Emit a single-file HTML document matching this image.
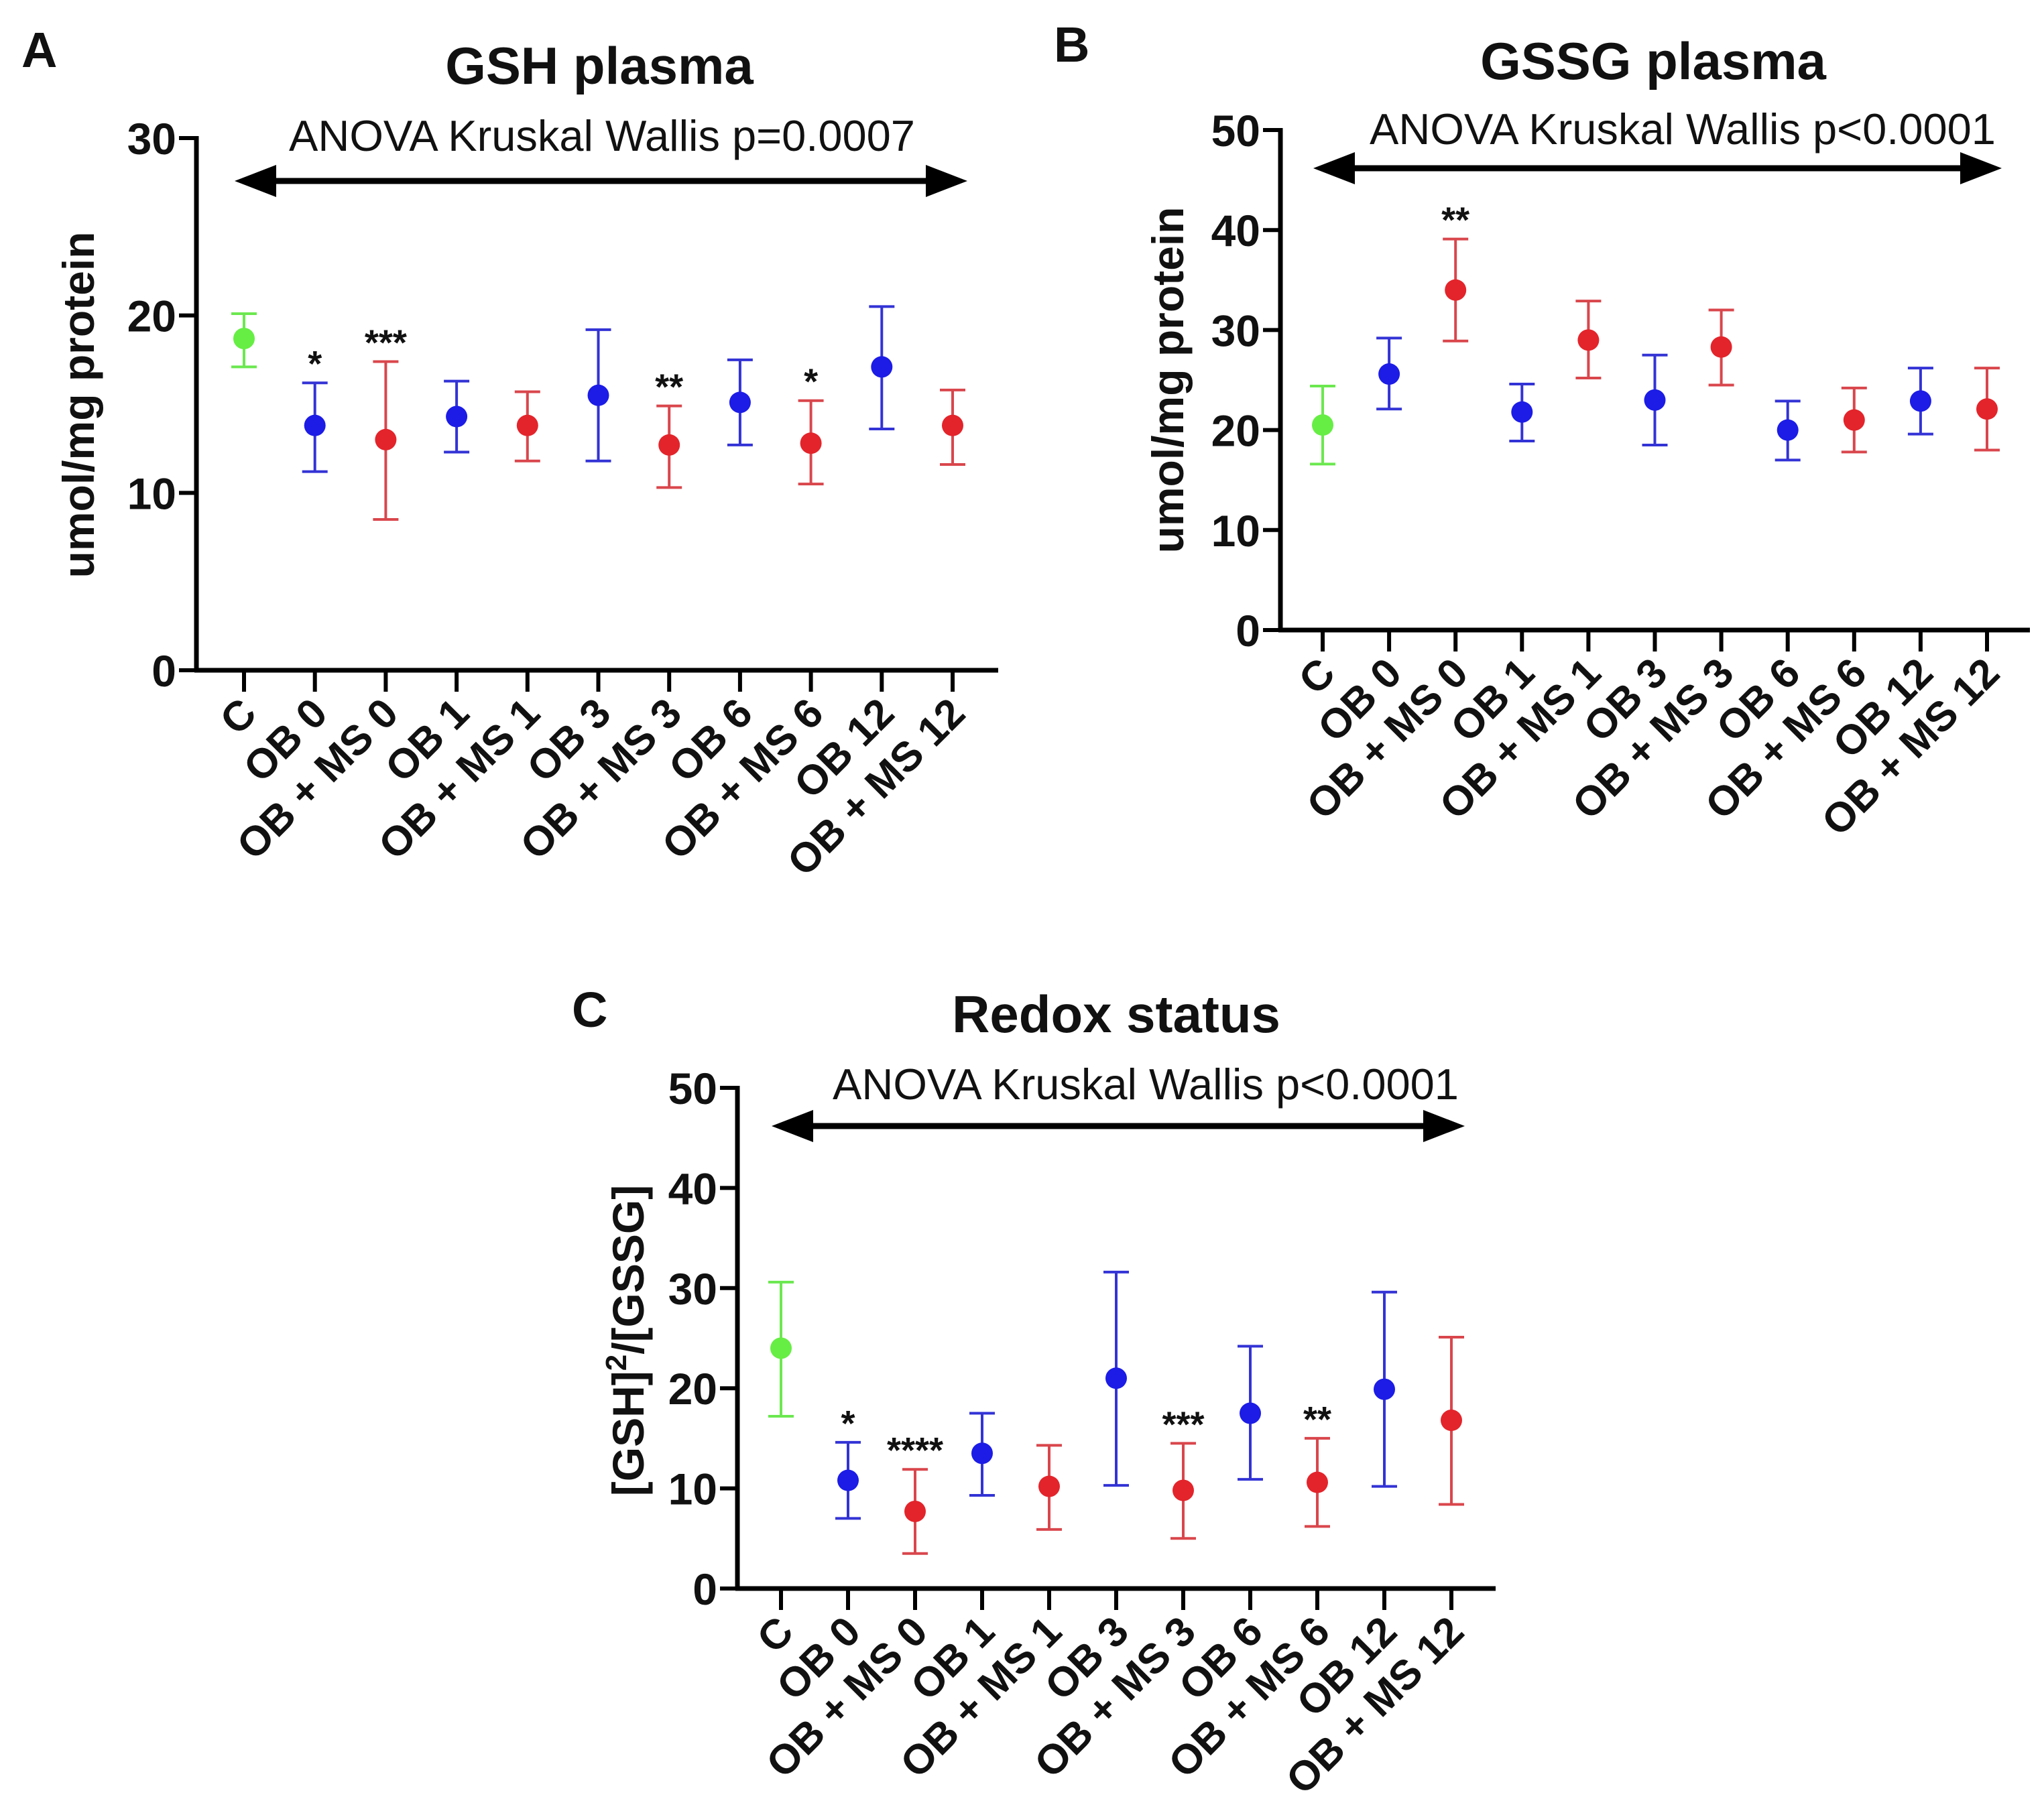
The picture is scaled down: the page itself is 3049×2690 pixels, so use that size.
<!DOCTYPE html>
<html><head><meta charset="utf-8"><style>
html,body{margin:0;padding:0;background:#fff;}
svg{display:block;font-family:"Liberation Sans",Arial,sans-serif;}
</style></head><body>
<svg id="fig" width="3049" height="2690" viewBox="0 0 3049 2690" xmlns="http://www.w3.org/2000/svg"></svg>
<script>
const categories = ["C","OB 0","OB + MS 0","OB 1","OB + MS 1","OB 3","OB + MS 3","OB 6","OB + MS 6","OB 12","OB + MS 12"];
const groupType = ["c","ob","ms","ob","ms","ob","ms","ob","ms","ob","ms"];
const gshMean = [18.7,13.8,13.0,14.3,13.8,15.5,12.7,15.1,12.8,17.1,13.8];
const gshLow  = [17.1,11.2,8.5,12.3,11.8,11.8,10.3,12.7,10.5,13.6,11.6];
const gshHigh = [20.1,16.2,17.4,16.3,15.7,19.2,14.9,17.5,15.2,20.5,15.8];
const gshStars = ["","*","***","","","","**","","*","",""];
const gssgMean = [20.5,25.6,34.0,21.8,29.0,23.0,28.3,20.0,21.0,22.9,22.1];
const gssgLow  = [16.6,22.1,28.9,18.9,25.2,18.5,24.5,17.0,17.8,19.6,18.0];
const gssgHigh = [24.4,29.2,39.1,24.6,32.9,27.5,32.0,22.9,24.2,26.2,26.2];
const gssgStars = ["","","**","","","","","","","",""];
const redoxMean = [24.0,10.8,7.7,13.5,10.2,21.0,9.8,17.5,10.6,19.9,16.8];
const redoxLow  = [17.2,7.0,3.5,9.3,5.9,10.3,5.0,10.9,6.2,10.2,8.4];
const redoxHigh = [30.6,14.6,11.9,17.5,14.3,31.6,14.5,24.2,15.0,29.6,25.1];
const redoxStars = ["","*","****","","","","***","","**","",""];
const gshTicks = [0,10,20,30];
const fiftyTicks = [0,10,20,30,40,50];

const NS="http://www.w3.org/2000/svg";
const svg=document.getElementById('fig');
const dotCol={c:"#66ee44",ob:"#1c1ce6",ms:"#e3242b"};
const barCol={c:"#6be84f",ob:"#3333d6",ms:"#d9464c"};
function mk(tag,attrs,parent){const e=document.createElementNS(NS,tag);for(const k in attrs)e.setAttribute(k,attrs[k]);(parent||svg).appendChild(e);return e;}

function panel(p){
  const g=mk('g',{});
  
  
  const yS=v=>p.y0+(p.yTop-p.y0)*(v/p.ymax);
  const xS=i=>p.xFirst+i*(p.xLast-p.xFirst)/(categories.length-1);
  const L=mk('text',{x:p.letterX,y:p.letterY,'font-size':74,'font-weight':'bold',fill:'#111'},g);L.textContent=p.letter;
  
  
  const T=mk('text',{x:p.titleX,y:p.titleY,'font-size':78,'font-weight':'bold','text-anchor':'middle',fill:'#111'},g);T.textContent=p.title;
  
  
  const A=mk('text',{x:p.anovaX,y:p.anovaY,'font-size':65,'text-anchor':'middle',fill:'#111'},g);A.textContent=p.anova;
  
  
  const ar=mk('g',{},g);
  
  
  mk('line',{x1:p.arX1+50,x2:p.arX2-50,y1:p.arY,y2:p.arY,stroke:'#000','stroke-width':9},ar);
  mk('polygon',{points:`${p.arX1},${p.arY} ${p.arX1+62},${p.arY-24} ${p.arX1+62},${p.arY+24}`,fill:'#000'},ar);
  mk('polygon',{points:`${p.arX2},${p.arY} ${p.arX2-62},${p.arY-24} ${p.arX2-62},${p.arY+24}`,fill:'#000'},ar);
  const ya=mk('line',{x1:p.axX,x2:p.axX,y1:p.yTop-3,y2:p.y0+3,stroke:'#000','stroke-width':7},g);
  
  
  const xa=mk('line',{x1:p.axX-3,x2:p.axEnd,y1:p.y0,y2:p.y0,stroke:'#000','stroke-width':7},g);
  
  
  p.ticks.forEach(t=>{
    mk('line',{x1:p.axX-26,x2:p.axX,y1:yS(t),y2:yS(t),stroke:'#000','stroke-width':6},g);
    const tl=mk('text',{x:p.axX-30,y:yS(t)+24,'font-size':66,'font-weight':'bold','text-anchor':'end',fill:'#111'},g);tl.textContent=t;
    
    
  });
  const yt=mk('text',{x:0,y:0,'font-size':66,'font-weight':'bold','text-anchor':'middle',fill:'#111',transform:`translate(${p.ytX},${p.ytY}) rotate(-90)`},g);
  yt.innerHTML=p.ytitle;
  
  
  categories.forEach((c,i)=>{
    const x=xS(i);
    mk('line',{x1:x,x2:x,y1:p.y0,y2:p.y0+32,stroke:'#000','stroke-width':6},g);
    const lx=x+22,ly=p.y0+68;
    const cl=mk('text',{x:0,y:0,'font-size':62,'font-weight':'bold','text-anchor':'end',fill:'#111',transform:`translate(${lx},${ly}) rotate(-45)`},g);cl.textContent=c;
    
    
    const ty=groupType[i];
    const s=mk('g',{},g);
    
    
    const yl=yS(p.lo[i]),yh=yS(p.hi[i]);
    mk('line',{x1:x,x2:x,y1:yh,y2:yl,stroke:barCol[ty],'stroke-width':4},s);
    mk('line',{x1:x-19,x2:x+19,y1:yh,y2:yh,stroke:barCol[ty],'stroke-width':4},s);
    mk('line',{x1:x-19,x2:x+19,y1:yl,y2:yl,stroke:barCol[ty],'stroke-width':4},s);
    mk('circle',{cx:x,cy:yS(p.mean[i]),r:16,fill:dotCol[ty]},s);
    if(p.stars[i]){
      const st=mk('text',{x:x,y:yh-10,'font-size':54,'font-weight':'bold','text-anchor':'middle',fill:'#111'},g);st.textContent=p.stars[i];
      
      
    }
  });
}
panel({id:'gsh',letter:'A',letterX:32,letterY:100,title:'GSH plasma',titleX:894,titleY:125,anova:'ANOVA Kruskal Wallis p=0.0007',anovaX:898,anovaY:225,
  arX1:350,arX2:1443,arY:270,axX:293,axEnd:1489,yTop:206,y0:1000,ymax:30,xFirst:364,xLast:1421,ticks:gshTicks,
  ytitle:'umol/mg protein',ytX:140,ytY:604,mean:gshMean,lo:gshLow,hi:gshHigh,stars:gshStars});
panel({id:'gssg',letter:'B',letterX:1572,letterY:92,title:'GSSG plasma',titleX:2466,titleY:118,anova:'ANOVA Kruskal Wallis p<0.0001',anovaX:2510,anovaY:215,
  arX1:1959,arX2:2986,arY:251,axX:1910,axEnd:3028,yTop:194,y0:940,ymax:50,xFirst:1973,xLast:2964,ticks:fiftyTicks,
  ytitle:'umol/mg protein',ytX:1765,ytY:567,mean:gssgMean,lo:gssgLow,hi:gssgHigh,stars:gssgStars});
panel({id:'redox',letter:'C',letterX:853,letterY:1532,title:'Redox status',titleX:1665,titleY:1540,anova:'ANOVA Kruskal Wallis p<0.0001',anovaX:1709,anovaY:1640,
  arX1:1151,arX2:2185,arY:1680,axX:1100,axEnd:2231,yTop:1623,y0:2370,ymax:50,xFirst:1165,xLast:2165,ticks:fiftyTicks,
  ytitle:'[GSH]<tspan dy="-26" font-size="44">2</tspan><tspan dy="26">/[GSSG]</tspan>',ytX:960,ytY:2000,mean:redoxMean,lo:redoxLow,hi:redoxHigh,stars:redoxStars});
</script>
</body></html>
